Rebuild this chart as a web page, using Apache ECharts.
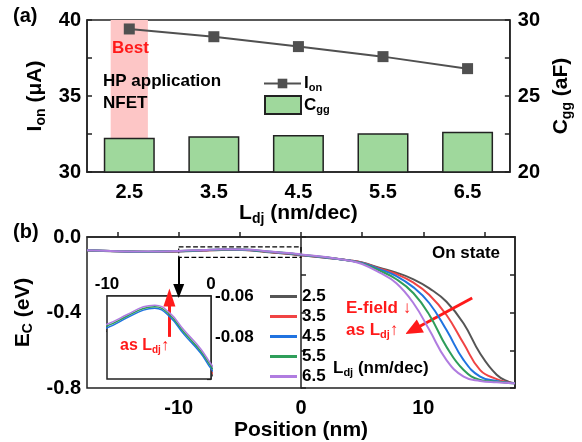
<!DOCTYPE html>
<html>
<head>
<meta charset="utf-8">
<script src="https://cdn.jsdelivr.net/npm/echarts@6/dist/echarts.min.js"></script>
<style>
  html, body { margin: 0; padding: 0; background: #fff; }
  #chart { width: 582px; height: 442px; }
</style>
</head>
<body>
<div id="chart"></div>
<script>
// (a) Ion / Cgg vs Ldj
var ldjLabels = ['2.5', '3.5', '4.5', '5.5', '6.5'];
var ionValues = [39.41, 38.90, 38.25, 37.59, 36.80];
var cggValues = [22.26, 22.35, 22.43, 22.55, 22.65];
var bestRange = [2.28, 2.72];

// (b) conduction band along the channel
var positions = [-17.5, -15, -12.5, -10, -8, -6.5, -5.4, -4, -2.6, -1, 0, 2, 4, 5, 6.4, 7.8, 9.2, 10.5, 11.9, 13.3, 14.65, 16, 17, 17.5];
var ec25 = [-0.0710, -0.0760, -0.0790, -0.0769, -0.0718, -0.0683, -0.0674, -0.0715, -0.0805, -0.0896, -0.0972, -0.110, -0.124, -0.135, -0.163, -0.189, -0.224, -0.272, -0.343, -0.458, -0.617, -0.730, -0.768, -0.775];
var ec35 = [-0.0708, -0.0758, -0.0785, -0.0761, -0.0711, -0.0676, -0.0667, -0.0707, -0.0795, -0.0886, -0.0961, -0.109, -0.1245, -0.1365, -0.166, -0.196, -0.242, -0.307, -0.413, -0.564, -0.705, -0.753, -0.771, -0.775];
var ec45 = [-0.0705, -0.0755, -0.0780, -0.0753, -0.0703, -0.0668, -0.0659, -0.0698, -0.0785, -0.0875, -0.0950, -0.108, -0.125, -0.138, -0.170, -0.207, -0.267, -0.351, -0.493, -0.652, -0.740, -0.763, -0.772, -0.775];
var ec55 = [-0.0702, -0.0752, -0.0775, -0.0744, -0.0695, -0.0660, -0.0652, -0.0689, -0.0775, -0.0865, -0.0939, -0.107, -0.1255, -0.140, -0.177, -0.224, -0.298, -0.413, -0.582, -0.705, -0.757, -0.767, -0.773, -0.775];
var ec65 = [-0.0700, -0.0750, -0.0770, -0.0736, -0.0688, -0.0652, -0.0644, -0.0680, -0.0764, -0.0854, -0.0928, -0.106, -0.126, -0.143, -0.188, -0.245, -0.351, -0.493, -0.652, -0.740, -0.763, -0.770, -0.773, -0.775];
var curveNames = ['2.5', '3.5', '4.5', '5.5', '6.5'];
var curveColors = ['#555555', '#f04444', '#2073e0', '#2f9e5a', '#b07ce0'];
var curves = [ec25, ec35, ec45, ec55, ec65];

var FONT = '"Liberation Sans", Arial, sans-serif';

function rich(size, color) {
  return {
    m: { fontSize: size, fontWeight: 'bold', fontFamily: FONT, color: color },
    s: { fontSize: Math.round(size * 0.65), fontWeight: 'bold', fontFamily: FONT, color: color, padding: [Math.round(size * 0.5), 0, 0, 0] }
  };
}
function zrich(size, color) {
  return {
    m: { fontSize: size, fontWeight: 'bold', fontFamily: FONT, fill: color },
    s: { fontSize: Math.round(size * 0.65), fontWeight: 'bold', fontFamily: FONT, fill: color, padding: [Math.round(size * 0.5), 0, 0, 0] },
    t: { fontSize: size, fontWeight: 'normal', fontFamily: FONT, fill: color }
  };
}

var myChart = echarts.init(document.getElementById('chart'));

var axisLine = { show: true, lineStyle: { color: '#222', width: 1.5 } };
var tickIn = { show: true, inside: true, length: 5, lineStyle: { color: '#222', width: 1.5 } };
var lbl = function (size) { return { color: '#000', fontSize: size, fontWeight: 'bold', fontFamily: FONT }; };

var series = [];

// pink "best" band
series.push({
  type: 'line', xAxisIndex: 1, yAxisIndex: 0, data: [], z: 1,
  markArea: { silent: true, itemStyle: { color: '#fdc6c6' },
    data: [[{ xAxis: bestRange[0] }, { xAxis: bestRange[1] }]] }
});
series.push({
  name: 'Cgg', type: 'bar', xAxisIndex: 0, yAxisIndex: 1, z: 2,
  barWidth: 51, data: cggValues,
  itemStyle: { color: '#9fd89c', borderColor: '#222', borderWidth: 1.5 }
});
series.push({
  name: 'Ion', type: 'line', xAxisIndex: 0, yAxisIndex: 0, z: 3,
  data: ionValues, symbol: 'rect', symbolSize: 11,
  itemStyle: { color: '#505050' }, lineStyle: { color: '#505050', width: 2 }
});

curves.forEach(function (vals, i) {
  var pts = positions.map(function (p, k) { return [p, vals[k]]; });
  series.push({
    name: curveNames[i], type: 'line', xAxisIndex: 2, yAxisIndex: 2,
    data: pts, symbol: 'none', smooth: 0.45,
    lineStyle: { color: curveColors[i], width: 2 }, itemStyle: { color: curveColors[i] }, z: 3 + i
  });
  series.push({
    name: curveNames[i], type: 'line', xAxisIndex: 3, yAxisIndex: 4,
    data: pts, symbol: 'none', smooth: 0.45, clip: true,
    lineStyle: { color: curveColors[i], width: 1.5 }, itemStyle: { color: curveColors[i] }, z: 3 + i
  });
});

// dashed zoom box, arrows
series.push({
  type: 'line', xAxisIndex: 2, yAxisIndex: 2, data: [], z: 10,
  markArea: { silent: true,
    itemStyle: { color: 'rgba(0,0,0,0)', borderColor: '#000', borderWidth: 1.2, borderType: 'dashed' },
    data: [[{ coord: [-10, -0.052] }, { coord: [0, -0.108] }]] },
  markLine: { silent: true, symbol: ['none', 'triangle'], label: { show: false },
    data: [
      [{ coord: [-10, -0.108], symbolSize: 1, lineStyle: { color: '#000', width: 2, type: 'solid' } },
       { coord: [-10, -0.286], symbolSize: [11, 14] }],
      [{ coord: [14, -0.323], symbolSize: 1, lineStyle: { color: '#ff1a1a', width: 3, type: 'solid' } },
       { coord: [9.15, -0.493], symbolSize: [15, 17] }]
    ] }
});
series.push({
  type: 'line', xAxisIndex: 3, yAxisIndex: 4, data: [], z: 10,
  markLine: { silent: true, symbol: ['none', 'triangle'], label: { show: false },
    data: [
      [{ coord: [-4, -0.0797], symbolSize: 1, lineStyle: { color: '#ff1a1a', width: 3, type: 'solid' } },
       { coord: [-4, -0.0607], symbolSize: [12, 18] }]
    ] }
});

var option = {
  backgroundColor: '#fff',
  animation: false,
  grid: [
    { left: 87, top: 20, width: 426, height: 152, show: true, borderColor: '#222', borderWidth: 1.5 },
    { left: 87, top: 237, width: 428, height: 151, show: true, borderColor: '#222', borderWidth: 1.5 },
    { left: 107, top: 296, width: 104, height: 83, show: true, borderColor: '#222', borderWidth: 1.5, backgroundColor: '#fff', z: 5 }
  ],
  legend: [
    {
      left: 258, top: 70, orient: 'vertical', itemWidth: 37, itemHeight: 12,
      selectedMode: false, data: ['Ion'],
      formatter: function () { return '{m|I}{s|on}'; },
      textStyle: { rich: rich(17, '#000'), padding: [0, 0, 0, -2] }
    },
    {
      left: 259, top: 90, orient: 'vertical', itemWidth: 36, itemHeight: 18,
      selectedMode: false, data: [{ name: 'Cgg', icon: 'rect' }],
      formatter: function () { return '{m|C}{s|gg}'; },
      textStyle: { rich: rich(17, '#000'), padding: [0, 0, 0, -2] }
    },
    {
      left: 265, top: 282, orient: 'vertical', itemWidth: 27, itemHeight: 3, itemGap: 1,
      icon: 'rect', selectedMode: false, data: curveNames,
      textStyle: { color: '#000', fontSize: 17, fontWeight: 'bold', fontFamily: FONT, lineHeight: 19 }
    }
  ],
  xAxis: [
    { type: 'category', gridIndex: 0, data: ldjLabels, boundaryGap: true,
      axisLine: axisLine, axisTick: { show: false },
      axisLabel: Object.assign({ margin: 10 }, lbl(20)),
      name: '{m|L}{s|dj}{m| (nm/dec)}', nameLocation: 'middle', nameGap: 28,
      nameTextStyle: { rich: rich(21, '#000') } },
    { type: 'value', gridIndex: 0, min: 2, max: 7, show: false },
    { type: 'value', gridIndex: 1, min: -17.5, max: 17.5,
      axisLine: axisLine, splitLine: { show: false },
      axisTick: Object.assign({ customValues: [-15, -10, -5, 0, 5, 10, 15] }, tickIn),
      axisLabel: Object.assign({ margin: 10, customValues: [-10, 0, 10] }, lbl(20)),
      name: 'Position (nm)', nameLocation: 'middle', nameGap: 32,
      nameTextStyle: lbl(21) },
    { type: 'value', gridIndex: 2, position: 'top', min: -10, max: 0, interval: 10,
      axisLine: axisLine, splitLine: { show: false }, axisTick: { show: false },
      axisLabel: Object.assign({ margin: 3 }, lbl(17)) }
  ],
  yAxis: [
    { type: 'value', gridIndex: 0, min: 30, max: 40, interval: 2.5,
      axisLine: axisLine, splitLine: { show: false }, axisTick: tickIn,
      axisLabel: Object.assign({ margin: 6, formatter: function (v) { return v % 5 === 0 ? String(v) : ''; } }, lbl(20)),
      name: '{m|I}{s|on}{m| (μA)}', nameLocation: 'middle', nameGap: 25, nameRotate: 90,
      nameTextStyle: { rich: rich(21, '#000') } },
    { type: 'value', gridIndex: 0, position: 'right', min: 20, max: 30, interval: 2.5,
      axisLine: axisLine, splitLine: { show: false }, axisTick: tickIn,
      axisLabel: Object.assign({ margin: 8, formatter: function (v) { return v % 5 === 0 ? String(v) : ''; } }, lbl(20)),
      name: '{m|C}{s|gg}{m| (aF)}', nameLocation: 'middle', nameGap: 38, nameRotate: 90,
      nameTextStyle: { rich: rich(21, '#000') } },
    { type: 'value', gridIndex: 1, min: -0.8, max: 0, interval: 0.2,
      axisLine: axisLine, splitLine: { show: false }, axisTick: tickIn,
      axisLabel: Object.assign({ margin: 6, formatter: function (v) { return Math.round(v * 10) % 4 === 0 ? v.toFixed(1) : ''; } }, lbl(20)),
      name: '{m|E}{s|C}{m| (eV)}', nameLocation: 'middle', nameGap: 40, nameRotate: 90,
      nameTextStyle: { rich: rich(21, '#000') } },
    { type: 'value', gridIndex: 1, position: 'right', min: -0.8, max: 0, interval: 0.2,
      axisLine: axisLine, splitLine: { show: false }, axisTick: tickIn, axisLabel: { show: false } },
    { type: 'value', gridIndex: 2, position: 'right', min: -0.1, max: -0.06, interval: 0.01,
      axisLine: axisLine, splitLine: { show: false }, axisTick: { show: true, inside: true, length: 4, lineStyle: { color: '#222', width: 1.2 } },
      axisLabel: Object.assign({ margin: 4, customValues: [-0.08, -0.06], formatter: function (v) { return v.toFixed(2); } }, lbl(17)) }
  ],
  graphic: [
    { type: 'text', left: 13, top: 6, style: { text: '(a)', font: 'bold 20px ' + FONT, fill: '#000' } },
    { type: 'text', left: 13, top: 222, style: { text: '(b)', font: 'bold 20px ' + FONT, fill: '#000' } },
    { type: 'text', left: 112, top: 40, z: 20, style: { text: 'Best', font: 'bold 17px ' + FONT, fill: '#ff1a1a' } },
    { type: 'text', left: 103, top: 73, z: 20, style: { text: 'HP application', font: 'bold 17px ' + FONT, fill: '#000' } },
    { type: 'text', left: 103, top: 95, z: 20, style: { text: 'NFET', font: 'bold 17px ' + FONT, fill: '#000' } },
    { type: 'text', left: 432, top: 245, z: 20, style: { text: 'On state', font: 'bold 17px ' + FONT, fill: '#000' } },
    { type: 'text', left: 346, top: 300, z: 20, style: { text: '{m|E-field }{t|↓}', rich: zrich(17, '#ff1a1a') } },
    { type: 'text', left: 346, top: 322, z: 20, style: { text: '{m|as L}{s|dj}{t|↑}', rich: zrich(17, '#ff1a1a') } },
    { type: 'text', left: 333, top: 360, z: 20, style: { text: '{m|L}{s|dj}{m| (nm/dec)}', rich: zrich(17, '#000') } },
    { type: 'text', left: 120, top: 338, z: 20, style: { text: '{m|as L}{s|dj}{t|↑}', rich: zrich(16, '#ff1a1a') } }
  ],
  series: series
};

myChart.setOption(option);
window.addEventListener('resize', function () { myChart.resize(); });
</script>
</body>
</html>
